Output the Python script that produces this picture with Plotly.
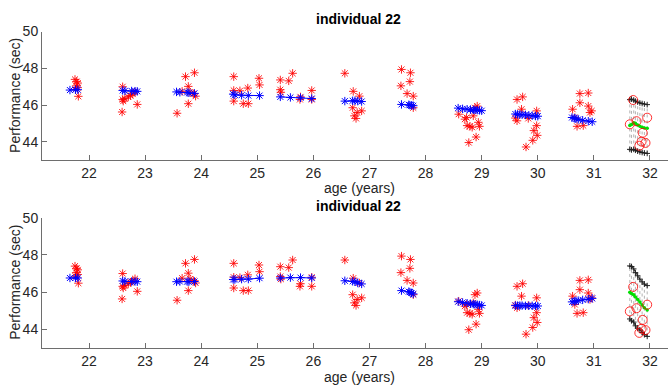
import plotly.graph_objects as go

# ---------------- data ----------------
red22_x = [21.75, 21.78, 21.80, 21.77, 21.80, 21.76, 21.81]
red22_y = [47.40, 47.28, 47.20, 47.05, 46.95, 46.85, 46.48]
red23_x = [22.60, 22.60, 22.61, 22.64, 22.70, 22.74, 22.78, 22.82, 22.86, 22.59]
red23_y = [47.00, 46.31, 46.22, 46.35, 46.45, 46.52, 46.60, 46.72, 46.04, 45.63]
red24_x = [23.57, 23.66, 23.72, 23.77, 23.80, 23.77, 23.88, 23.90, 23.86]
red24_y = [45.56, 46.75, 47.55, 47.02, 46.70, 46.08, 47.76, 46.49, 46.62]
red25_x = [24.58, 24.58, 24.58, 24.69, 24.75, 24.84, 24.83, 25.03, 25.04]
red25_y = [47.55, 46.80, 46.22, 46.78, 46.08, 46.08, 46.93, 47.46, 47.10]
red26_x = [25.41, 25.56, 25.63, 25.41, 25.42, 25.77, 25.76, 25.97, 25.97]
red26_y = [47.37, 47.32, 47.73, 46.84, 46.70, 46.45, 46.31, 46.80, 46.31]
red27_x = [26.56, 26.71, 26.82, 26.70, 26.78, 26.86, 26.76, 26.73]
red27_y = [47.73, 46.75, 46.49, 45.86, 45.60, 45.69, 45.28, 45.42]
red28_x = [27.57, 27.73, 27.72, 27.56, 27.67, 27.78, 27.78]
red28_y = [47.94, 47.76, 47.28, 47.05, 46.63, 46.49, 45.86]
red29_x = [28.59, 28.70, 28.74, 28.77, 28.88, 28.73, 28.85, 28.79, 28.94, 28.96, 28.90, 28.83, 28.92]
red29_y = [45.51, 45.24, 44.89, 43.97, 45.86, 45.33, 45.42, 44.85, 45.07, 44.85, 44.27, 44.80, 45.95]
red30_x = [29.63, 29.73, 29.71, 29.63, 29.98, 29.83, 29.98, 29.93, 29.99, 29.91, 29.79, 29.60]
red30_y = [46.31, 46.45, 45.78, 45.15, 45.69, 45.28, 44.89, 44.62, 44.36, 44.09, 43.73, 45.30]
red31_x = [30.75, 30.90, 30.75, 30.90, 30.96, 30.62, 30.66, 30.70, 30.81, 30.93]
red31_y = [46.63, 46.66, 46.13, 45.95, 45.69, 45.78, 45.33, 44.85, 44.89, 45.60]

blue22_x = [21.66, 21.76, 21.80]
blue23_x = [22.60, 22.64, 22.76, 22.82, 22.86]
blue24_x = [23.56, 23.62, 23.75, 23.78, 23.88]
blue25_x = [24.57, 24.60, 24.72, 24.84, 25.04]
blue26_x = [25.41, 25.59, 25.77, 25.97]
blue27_x = [26.56, 26.70, 26.74, 26.79, 26.86]
blue28_x = [27.57, 27.70, 27.72, 27.75, 27.78]
blue29_x = [28.58, 28.66, 28.74, 28.80, 28.85, 28.88, 28.92, 28.96, 29.00]
blue30_x = [29.60, 29.64, 29.68, 29.72, 29.78, 29.84, 29.90, 29.96, 30.00]
blue31_x = [30.61, 30.65, 30.68, 30.72, 30.80, 30.90, 30.97]

# top panel fitted values
top22_y = [46.82, 46.84, 46.84]
top23_y = [46.80, 46.78, 46.77, 46.76, 46.75]
top24_y = [46.72, 46.70, 46.69, 46.67, 46.64]
top25_y = [46.60, 46.56, 46.54, 46.52, 46.52]
top26_y = [46.45, 46.42, 46.40, 46.36]
top27_y = [46.22, 46.24, 46.24, 46.22, 46.20]
top28_y = [46.04, 46.02, 46.00, 45.99, 45.97]
top29_y = [45.84, 45.80, 45.78, 45.76, 45.75, 45.74, 45.73, 45.72, 45.70]
top30_y = [45.52, 45.50, 45.49, 45.48, 45.47, 45.45, 45.43, 45.41, 45.40]
top31_y = [45.33, 45.29, 45.26, 45.23, 45.18, 45.13, 45.10]

# bottom panel fitted values
bot22_y = [46.76, 46.76, 46.76]
bot23_y = [46.60, 46.58, 46.57, 46.57, 46.56]
bot24_y = [46.56, 46.57, 46.57, 46.56, 46.57]
bot25_y = [46.68, 46.68, 46.70, 46.70, 46.75]
bot26_y = [46.76, 46.78, 46.78, 46.76]
bot27_y = [46.61, 46.58, 46.56, 46.49, 46.44]
bot28_y = [46.08, 46.02, 46.00, 45.95, 45.90]
bot29_y = [45.48, 45.44, 45.40, 45.37, 45.35, 45.34, 45.32, 45.30, 45.28]
bot30_y = [45.27, 45.27, 45.27, 45.27, 45.26, 45.26, 45.26, 45.25, 45.25]
bot31_y = [45.47, 45.50, 45.52, 45.54, 45.58, 45.62, 45.66]

# prediction at age 32
pred_x = [31.64, 31.67, 31.71, 31.74, 31.78, 31.82, 31.86, 31.90, 31.95]
top_pred = [44.89, 44.95, 45.05, 45.02, 44.93, 44.86, 44.80, 44.76, 44.74]
top_upper = [46.30, 46.33, 46.28, 46.22, 46.17, 46.12, 46.09, 46.06, 46.03]
top_lower = [43.60, 43.57, 43.60, 43.55, 43.50, 43.46, 43.43, 43.40, 43.38]
bot_pred = [45.99, 45.92, 45.85, 45.73, 45.60, 45.47, 45.30, 45.15, 45.03]
bot_upper = [47.41, 47.38, 47.25, 47.05, 46.88, 46.70, 46.55, 46.43, 46.35]
bot_lower = [44.55, 44.45, 44.38, 44.18, 44.05, 43.95, 43.82, 43.70, 43.61]
obs32_x = [31.70, 31.64, 31.76, 31.95, 31.87, 31.85, 31.92, 31.81]
obs32_y = [46.28, 44.96, 45.13, 45.32, 44.50, 44.02, 43.95, 43.80]

x_ticks = [22, 23, 24, 25, 26, 27, 28, 29, 30, 31, 32]
y_ticks = [44, 46, 48, 50]
title_text = "individual 22"
x_title = "age (years)"
y_title = "Performance (sec)"

# ---------------- build ----------------
red_x = [red22_x, red23_x, red24_x, red25_x, red26_x, red27_x, red28_x, red29_x, red30_x, red31_x]
red_y = [red22_y, red23_y, red24_y, red25_y, red26_y, red27_y, red28_y, red29_y, red30_y, red31_y]
blue_x = [blue22_x, blue23_x, blue24_x, blue25_x, blue26_x, blue27_x, blue28_x, blue29_x, blue30_x, blue31_x]
top_y = [top22_y, top23_y, top24_y, top25_y, top26_y, top27_y, top28_y, top29_y, top30_y, top31_y]
bot_y = [bot22_y, bot23_y, bot24_y, bot25_y, bot26_y, bot27_y, bot28_y, bot29_y, bot30_y, bot31_y]


def join(groups):
    out = []
    for i, g in enumerate(groups):
        if i:
            out.append(None)
        out.extend(g)
    return out


fig = go.Figure()

panels = [("x", "y", top_y, top_pred, top_upper, top_lower),
          ("x2", "y2", bot_y, bot_pred, bot_upper, bot_lower)]

for xa, ya, fit_y, pr, up, lo in panels:
    # red observations
    fig.add_trace(go.Scatter(
        x=join(red_x), y=join(red_y), mode="markers", xaxis=xa, yaxis=ya,
        marker=dict(symbol="asterisk-open", size=7, color="rgba(255,0,0,0.85)",
                    line=dict(width=1, color="rgba(255,0,0,0.85)")),
        showlegend=False, hoverinfo="skip"))
    # blue fitted
    fig.add_trace(go.Scatter(
        x=join(blue_x), y=join(fit_y), mode="lines+markers", xaxis=xa, yaxis=ya,
        line=dict(color="#0000ff", width=1),
        marker=dict(symbol="asterisk-open", size=7, color="#0000ff",
                    line=dict(width=1, color="#0000ff")),
        showlegend=False, hoverinfo="skip"))
    # dotted vertical interval lines
    vx, vy = [], []
    for xv, a, b in zip(pred_x, lo, up):
        vx += [xv, xv, None]
        vy += [a, b, None]
    fig.add_trace(go.Scatter(
        x=vx, y=vy, mode="lines", xaxis=xa, yaxis=ya,
        line=dict(color="#a0a0a0", width=0.8, dash="dot"),
        showlegend=False, hoverinfo="skip"))
    # black bounds
    for band in (up, lo):
        fig.add_trace(go.Scatter(
            x=pred_x, y=band, mode="lines+markers", xaxis=xa, yaxis=ya,
            line=dict(color="#202020", width=1),
            marker=dict(symbol="cross-thin-open", size=4, color="#202020",
                        line=dict(width=1, color="#202020")),
            showlegend=False, hoverinfo="skip"))
    # green prediction
    fig.add_trace(go.Scatter(
        x=pred_x, y=pr, mode="lines+markers", xaxis=xa, yaxis=ya,
        line=dict(color="#00e000", width=1.5),
        marker=dict(symbol="circle", size=3.5, color="#00e000"),
        showlegend=False, hoverinfo="skip"))
    # red circles (observed at 32)
    fig.add_trace(go.Scatter(
        x=obs32_x, y=obs32_y, mode="markers", xaxis=xa, yaxis=ya,
        marker=dict(symbol="circle-open", size=9, color="rgba(255,0,0,0.8)",
                    line=dict(width=1, color="rgba(255,0,0,0.8)")),
        showlegend=False, hoverinfo="skip"))

W, H, ML = 668, 391, 42
PW = W - ML


def px_x(p):
    return (p - ML) / PW


def px_y(p):
    return 1 - p / H


axis_common = dict(showline=True, linecolor="#6e6e6e", linewidth=1,
                   ticks="inside", ticklen=5, tickcolor="#6e6e6e", tickwidth=1,
                   showgrid=False, zeroline=False, mirror=False,
                   tickfont=dict(family="Liberation Sans, Arial, sans-serif", size=14, color="#262626"))

fig.update_layout(
    width=W, height=H,
    margin=dict(l=ML, r=0, t=0, b=0),
    plot_bgcolor="white", paper_bgcolor="white",
    xaxis=dict(axis_common, range=[21.162, 32.321], tickvals=x_ticks, anchor="y",
               domain=[0, 1]),
    yaxis=dict(axis_common, range=[43, 50], tickvals=y_ticks, anchor="x",
               domain=[px_y(155.6), px_y(24)]),
    xaxis2=dict(axis_common, range=[21.162, 32.321], tickvals=x_ticks, anchor="y2",
                domain=[0, 1]),
    yaxis2=dict(axis_common, range=[43, 50], tickvals=y_ticks, anchor="x2",
                domain=[px_y(346.8), px_y(214.3)]),
)

font_txt = dict(family="Liberation Sans, Arial, sans-serif", size=14, color="#262626")
ann = []
for ty, xl_y, yl_y in [(11.5, 183.3, 89.8), (202.5, 377.0, 280.5)]:
    ann.append(dict(text="<b>" + title_text + "</b>", x=px_x(358), y=px_y(ty),
                    xref="paper", yref="paper", showarrow=False,
                    xanchor="center", yanchor="middle",
                    font=dict(family="Liberation Sans, Arial, sans-serif", size=14, color="black")))
    ann.append(dict(text=x_title, x=px_x(359), y=px_y(xl_y), xref="paper", yref="paper",
                    showarrow=False, xanchor="center", yanchor="middle", font=font_txt))
    ann.append(dict(text=y_title, x=px_x(15), y=px_y(yl_y), xref="paper", yref="paper",
                    showarrow=False, xanchor="center", yanchor="middle", textangle=-90,
                    font=font_txt))
fig.update_layout(annotations=ann)

fig.write_html("out.html")
